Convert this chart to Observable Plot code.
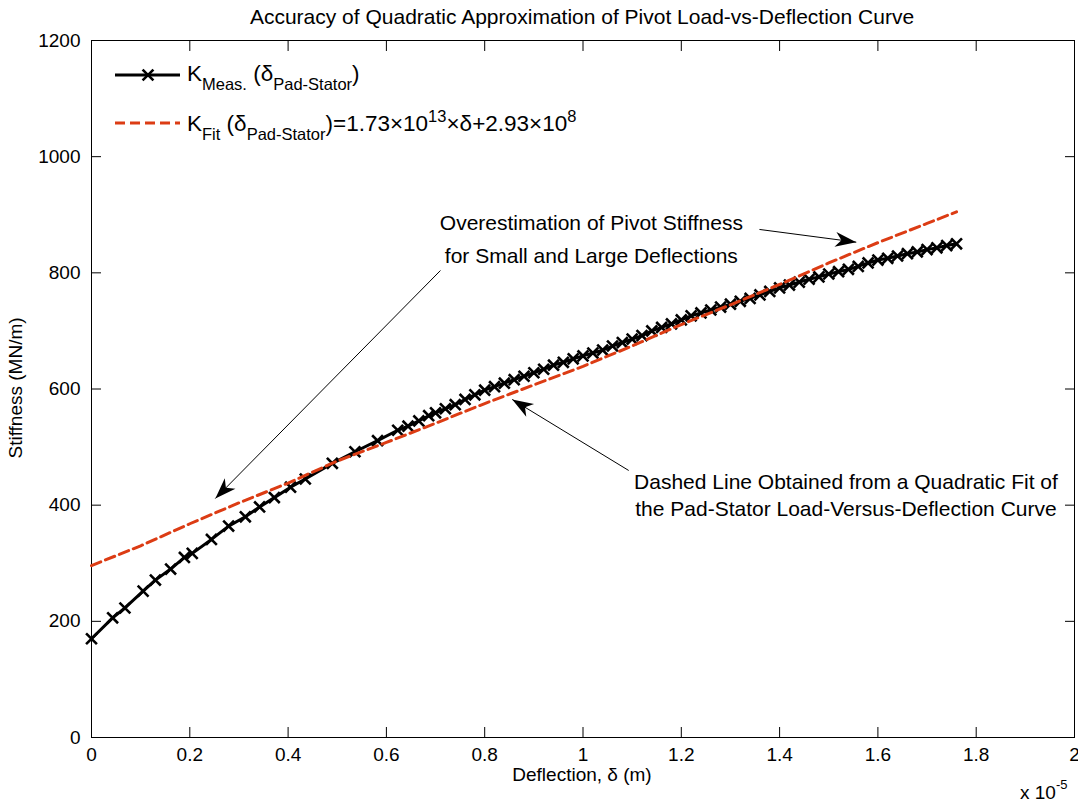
<!DOCTYPE html>
<html><head><meta charset="utf-8">
<script src="https://cdn.jsdelivr.net/npm/d3@7"></script>
<script src="https://cdn.jsdelivr.net/npm/@observablehq/plot@0.6"></script>
<style>body{margin:0;background:#fff} svg{font-family:"Liberation Sans",Arial,sans-serif}</style>
</head><body><div id="chart"></div>
<script>
// Measured stiffness (deflection in 1e-5 m, stiffness in MN/m)
const measDefl = [0,0.043,0.068,0.105,0.130,0.161,0.189,0.205,0.244,0.279,0.313,0.342,0.372,0.405,0.435,0.490,0.536,0.582,0.623,0.644,0.666,0.686,
  0.70,0.72,0.74,0.76,0.78,0.80,0.82,0.84,0.86,0.88,0.90,0.92,0.94,0.96,0.98,1.00,1.02,1.04,1.06,1.08,1.10,1.12,1.14,1.16,1.18,1.20,
  1.22,1.24,1.26,1.28,1.30,1.32,1.34,1.36,1.38,1.40,1.42,1.44,1.46,1.48,1.50,1.52,1.54,1.56,1.58,1.60,1.62,1.64,1.66,1.68,1.70,1.72,1.74,1.76];
const measK = [170,206,223,252,271,290,310,317,341,364,380,397,413,431,445,472,492,511,529,536,545,554,
  559,566,573,582,590,598,604,610,616,622,628,634,641,646,652,657,662,667,674,680,686,692,700,706,712,719,
  726,731,736,741,746,751,756,762,768,774,779,784,789,793,798,802,806,811,817,822,825,829,833,836,840,843,847,850];
// Quadratic-fit stiffness (dashed)
const fitDefl = [0,0.1,0.2,0.3,0.4,0.5,0.6,0.7,0.8,0.9,1.0,1.1,1.2,1.3,1.4,1.5,1.6,1.7,1.76];
const fitK = [296,330,368,404,438,476,508,541,575,607,639,674,711,745,780,817,852,885,905];
// Ticks
const xTicks = [0,0.2,0.4,0.6,0.8,1,1.2,1.4,1.6,1.8,2];
const yTicks = [0,200,400,600,800,1000,1200];
// Annotation texts (data coordinates)
const noteText = ["Overestimation of Pivot Stiffness","for Small and Large Deflections",
  "Dashed Line Obtained from a Quadratic Fit of","the Pad-Stator Load-Versus-Deflection Curve"];
const noteX = [1.017,1.017,1.535,1.535];
const noteY = [885,829,440,393];
// Arrows (data coordinates): tail (x1,y1) -> tip (x2,y2)
const arrowX1 = [0.710,1.359,1.093];
const arrowY1 = [804,874.7,459.7];
const arrowX2 = [0.252,1.556,0.856];
const arrowY2 = [411.5,852.8,582];

const titleText = "Accuracy of Quadratic Approximation of Pivot Load-vs-Deflection Curve";
const xLabel = "Deflection, δ (m)";
const yLabel = "Stiffness (MN/m)";

const W = 1078, H = 802, ML = 91, MR = 4, MT = 40, MB = 65;
const xDomain = [0,2], yDomain = [0,1200];

const meas = measDefl.map((x,i)=>({x, y: measK[i]}));
const fit = fitDefl.map((x,i)=>({x, y: fitK[i]}));
const notes = noteText.map((t,i)=>({text:t, x:noteX[i], y:noteY[i]}));

// screen-space angle of each arrow, from the same scales the plot uses
const sx = Plot.scale({x:{domain:xDomain, range:[ML, W-MR]}});
const sy = Plot.scale({y:{domain:yDomain, range:[H-MB, MT]}});
const arrows = arrowX1.map((x1,i)=>{
  const dx = sx.apply(arrowX2[i]) - sx.apply(x1);
  const dy = sy.apply(arrowY2[i]) - sy.apply(arrowY1[i]);
  return {x1, y1:arrowY1[i], x2:arrowX2[i], y2:arrowY2[i], angle: Math.atan2(dx, -dy)*180/Math.PI};
});
// notched MATLAB-style arrowhead, tip at origin pointing up
const arrowHead = {draw(ctx){ ctx.moveTo(0,0); ctx.lineTo(7.5,21); ctx.lineTo(0,15); ctx.lineTo(-7.5,21); ctx.closePath(); }};

const red = "#dc3c14";
const FS = 19, FSN = 21, FSL = 22.5, FSS = 16.5;
const ff = '"Liberation Sans",Arial,sans-serif';

const plot = Plot.plot({
  width:W, height:H, marginLeft:ML, marginRight:MR, marginTop:MT, marginBottom:MB,
  style:{fontFamily:ff, fontSize: FS+"px", background:"white", color:"black"},
  x:{domain:xDomain},
  y:{domain:yDomain},
  marks:[
    Plot.frame({stroke:"black", strokeWidth:1}),
    Plot.axisX({ticks:xTicks, tickSize:-10, tickPadding:20, tickFormat:d=>String(+d.toFixed(1)), label:null}),
    Plot.axisX({anchor:"top", ticks:xTicks, tickSize:-10, tickFormat:()=>"", label:null}),
    Plot.axisY({ticks:yTicks, tickSize:-10, tickPadding:21, tickFormat:d=>String(d), label:null}),
    Plot.axisY({anchor:"right", ticks:yTicks, tickSize:-10, tickFormat:()=>"", label:null}),
    Plot.line(meas, {x:"x", y:"y", stroke:"black", strokeWidth:3}),
    Plot.dot(meas, {x:"x", y:"y", symbol:"times", r:5, stroke:"black", strokeWidth:2.6}),
    Plot.line(fit, {x:"x", y:"y", stroke:red, strokeWidth:3, strokeDasharray:"10,5"}),
    Plot.link(arrows, {x1:"x1", y1:"y1", x2:"x2", y2:"y2", stroke:"black", strokeWidth:1}),
    Plot.dot(arrows, {x:"x2", y:"y2", symbol:arrowHead, rotate:"angle", fill:"black", stroke:"none"}),
    Plot.text(notes, {x:"x", y:"y", text:"text", fontSize:FSN, textAnchor:"middle"})
  ]
});
document.getElementById("chart").appendChild(plot);

const svg = d3.select(plot);
// Title
svg.append("text").attr("x",582).attr("y",24).attr("text-anchor","middle").attr("font-size",FSN).attr("font-family",ff).text(titleText);
// Axis labels
svg.append("text").attr("x",582).attr("y",781).attr("text-anchor","middle").attr("font-size",FS).attr("font-family",ff).text(xLabel);
svg.append("text").attr("transform","translate(22,388) rotate(-90)").attr("text-anchor","middle").attr("font-size",FS).attr("font-family",ff).text(yLabel);
// Exponent
const ex = svg.append("text").attr("x",1020).attr("y",799).attr("text-anchor","start").attr("font-size",FS).attr("font-family",ff);
ex.append("tspan").text("x 10");
ex.append("tspan").attr("font-size",13).attr("dy",-10).text("-5");

// Legend
const lg = svg.append("g").attr("font-family",ff).attr("text-anchor","start");
lg.append("line").attr("x1",115).attr("x2",180).attr("y1",75).attr("y2",75).attr("stroke","black").attr("stroke-width",3);
lg.append("path").attr("transform","translate(148,75)").attr("d",d3.symbol(d3.symbolTimes, Math.PI*5*5)()).attr("stroke","black").attr("stroke-width",2.6);
const t1 = lg.append("text").attr("x",187).attr("y",81).attr("font-size",FSL);
t1.append("tspan").text("K");
t1.append("tspan").attr("font-size",FSS).attr("dy",9).text("Meas.");
t1.append("tspan").attr("dy",-9).text(" (δ");
t1.append("tspan").attr("font-size",FSS).attr("dy",9).text("Pad-Stator");
t1.append("tspan").attr("dy",-9).text(")");

lg.append("line").attr("x1",115).attr("x2",180).attr("y1",123).attr("y2",123).attr("stroke",red).attr("stroke-width",3).attr("stroke-dasharray","10,5");
const t2 = lg.append("text").attr("x",187).attr("y",131).attr("font-size",FSL);
t2.append("tspan").text("K");
t2.append("tspan").attr("font-size",FSS).attr("dy",9).text("Fit");
t2.append("tspan").attr("dy",-9).text(" (δ");
t2.append("tspan").attr("font-size",FSS).attr("dy",9).text("Pad-Stator");
t2.append("tspan").attr("dy",-9).text(")=1.73×10");
t2.append("tspan").attr("font-size",FSS).attr("dy",-9).text("13");
t2.append("tspan").attr("dy",9).text("×δ+2.93×10");
t2.append("tspan").attr("font-size",FSS).attr("dy",-9).text("8");
</script>
</body></html>
